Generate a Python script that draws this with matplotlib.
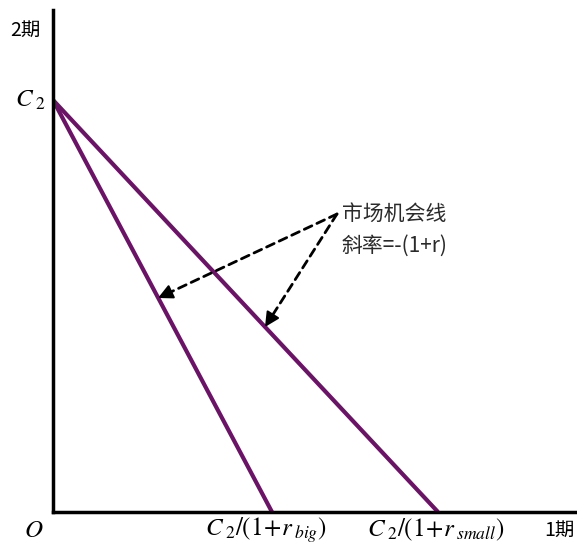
import matplotlib.pyplot as plt
import numpy as np

plt.rcParams['font.family'] = ['Noto Sans CJK SC', 'DejaVu Sans']
plt.rcParams['mathtext.fontset'] = 'stix'

# data (pixel-like units, origin at the axes corner)
c2 = 412
x_big = 219      # C2/(1+r_big)
x_small = 385    # C2/(1+r_small)
arrow_tail = (284, 298)
arrow_tips = [(105, 214), (212, 185)]
note_lines = ['市场机会线', '斜率=-(1+r)']

purple = '#6a1466'

fig = plt.figure(figsize=(5.77, 5.44), dpi=100)
ax = fig.add_axes([53 / 577, 32 / 544, 524 / 577, 502 / 544])
ax.set_xlim(0, 524)
ax.set_ylim(0, 502)

ax.plot([0, x_big], [c2, 0], color=purple, lw=3, solid_capstyle='butt')
ax.plot([0, x_small], [c2, 0], color=purple, lw=3, solid_capstyle='butt')

for tip in arrow_tips:
    # dashed shaft
    ax.annotate('', xy=tip, xytext=arrow_tail,
                arrowprops=dict(arrowstyle='-', ls=(0, (3, 2)), lw=2, color='black',
                                shrinkA=0, shrinkB=6))
    # solid head
    d = np.array(tip) - np.array(arrow_tail)
    d = d / np.hypot(*d)
    start = np.array(tip) - d * 14
    ax.annotate('', xy=tip, xytext=tuple(start),
                arrowprops=dict(arrowstyle='-|>', lw=1.5, color='black',
                                mutation_scale=22, shrinkA=0, shrinkB=0))

ax.text(289, 298, note_lines[0], fontsize=15, va='center', ha='left', color='#2a2a2a')
ax.text(289, 266, note_lines[1], fontsize=15, va='center', ha='left', color='#2a2a2a')

for s in ['top', 'right']:
    ax.spines[s].set_visible(False)
ax.spines['left'].set_linewidth(2.5)
ax.spines['bottom'].set_linewidth(2.5)
ax.set_xticks([])
ax.set_yticks([])

# axis labels as text
fig.text(10 / 577, 1 - 30 / 544, '2期', fontsize=14, va='center', ha='left')
ax.text(-7, c2, r'$C_{\;2}$', fontsize=18, va='center', ha='right')
ax.text(-10, -18, r'$O$', fontsize=18, va='center', ha='right')
ax.text(x_big - 6, -18, r'$C_{\;2}/(\mathit{1}\!+\!r_{\;big})$', fontsize=18, va='center', ha='center')
ax.text(x_small - 2, -18, r'$C_{\;2}/(\mathit{1}\!+\!r_{\;small})$', fontsize=18, va='center', ha='center')
ax.text(506, -18, '1期', fontsize=14, va='center', ha='center')

fig.savefig('out.png', dpi=100)
